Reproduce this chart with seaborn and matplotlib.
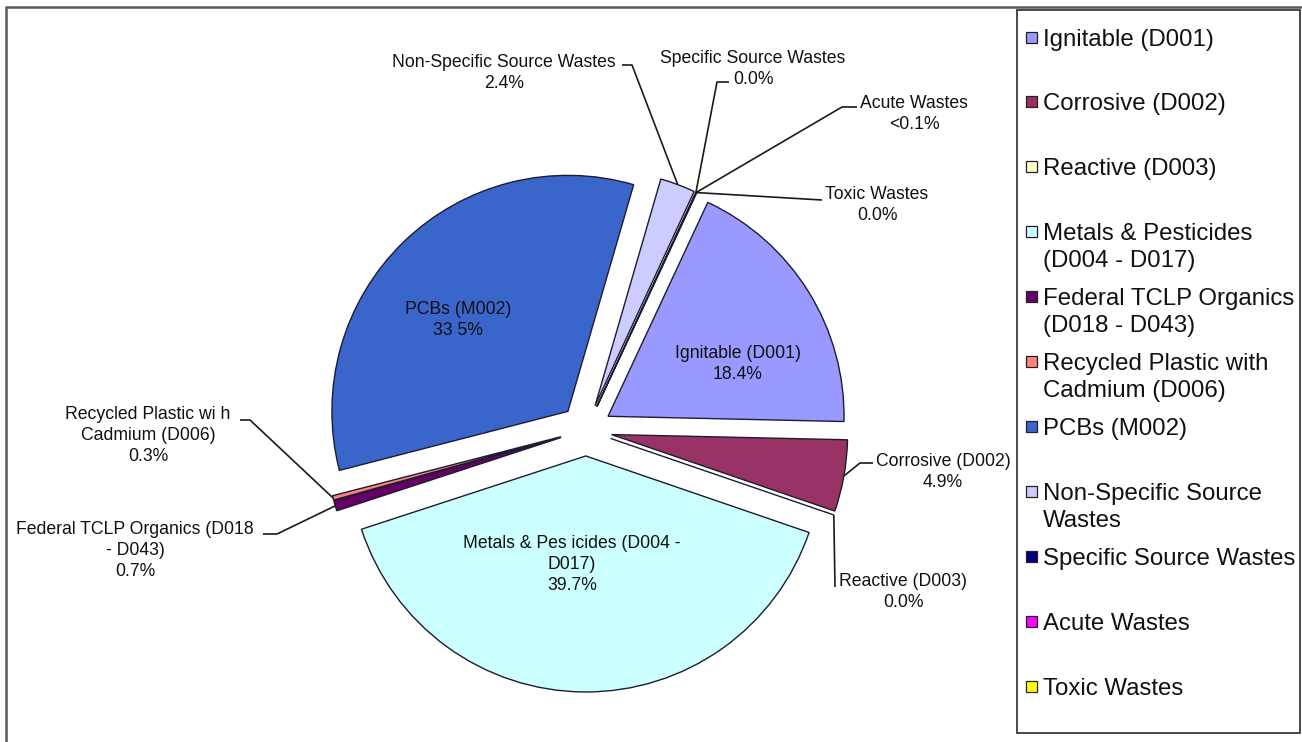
import matplotlib
matplotlib.use("Agg")
import matplotlib.pyplot as plt
import seaborn as sns
from matplotlib.patches import Rectangle
import numpy as np

# ---------------- data ----------------
categories = [
    "Ignitable (D001)",
    "Corrosive (D002)",
    "Reactive (D003)",
    "Metals & Pesticides\n(D004 - D017)",
    "Federal TCLP Organics\n(D018 - D043)",
    "Recycled Plastic with\nCadmium (D006)",
    "PCBs (M002)",
    "Non-Specific Source\nWastes",
    "Specific Source Wastes",
    "Acute Wastes",
    "Toxic Wastes",
]
values = [18.4, 4.9, 0.0, 39.7, 0.7, 0.3, 33.5, 2.4, 0.0, 0.05, 0.0]
pct_text = ["18.4%", "4.9%", "0.0%", "39.7%", "0.7%", "0.3%", "33 5%",
            "2.4%", "0.0%", "<0.1%", "0.0%"]
slice_names = [
    ["Ignitable (D001)"],
    ["Corrosive (D002)"],
    ["Reactive (D003)"],
    ["Metals & Pes icides (D004 -", "D017)"],
    ["Federal TCLP Organics (D018", "- D043)"],
    ["Recycled Plastic wi h", "Cadmium (D006)"],
    ["PCBs (M002)"],
    ["Non-Specific Source Wastes"],
    ["Specific Source Wastes"],
    ["Acute Wastes"],
    ["Toxic Wastes"],
]

# ---------------- style / layout ----------------
colors = ["#9999FF", "#993366", "#FFFFCC", "#CCFFFF", "#660066", "#FF8080",
          "#3A66CC", "#CCCCFF", "#000080", "#FF00FF", "#FFFF00"]

W, H, DPI = 1302, 742, 100
CX, CY, R = 586, 430, 236          # pie centre / radius in pixels

sns.set_theme(style="white")
plt.rcParams['font.family'] = ['Liberation Sans', 'DejaVu Sans']
TXT = "#111111"

def P(px, py):
    return ((px - CX) / R, (CY - py) / R)

fig = plt.figure(figsize=(W / DPI, H / DPI), dpi=DPI)
fig.patch.set_facecolor("white")
ax = fig.add_axes([0, 0, 1, 1])

wedges, _ = ax.pie(values, colors=colors, startangle=65, counterclock=False,
                   explode=[0.11] * len(values), radius=1,
                   wedgeprops=dict(edgecolor="#1c1c30", linewidth=1.0))
ax.set_xlim(-CX / R, (W - CX) / R)
ax.set_ylim(-(H - CY) / R, CY / R)
ax.set_aspect("equal")
ax.axis("off")

# label positions: (centre x px, first line centre y px)
label_pos = {
    0: (738, 352), 1: (943, 460), 2: (903, 580), 3: (572, 542),
    4: (135, 528), 5: (148, 413), 6: (458, 308), 7: (504, 61),
    8: (753, 57), 9: (914, 102), 10: (877, 193),
}
LFS_PX, LSP = 17.6, 21
for i, (x, y) in label_pos.items():
    lines = slice_names[i] + [pct_text[i]]
    for k, line in enumerate(lines):
        ax.text(*P(x, y + k * LSP + 0.36 * LFS_PX), line, ha="center",
                va="baseline", fontsize=LFS_PX * 72 / DPI, color=TXT)

# leader lines (start points in px, end at wedge rim)
leaders = {
    7: [(622, 65), (632, 65)],
    8: [(729, 82), (717, 82)],
    9: [(857, 107), (842, 107)],
    10: [(822, 200)],
    1: [(873, 463), (860, 463)],
    2: [(835, 587)],
    5: [(240, 420), (250, 420)],
    4: [(263, 534), (277, 534)],
}
for i, pts in leaders.items():
    w = wedges[i]
    th = np.deg2rad(0.5 * (w.theta1 + w.theta2))
    end = (w.center[0] + w.r * np.cos(th), w.center[1] + w.r * np.sin(th))
    xs = [P(*p)[0] for p in pts] + [end[0]]
    ys = [P(*p)[1] for p in pts] + [end[1]]
    ax.plot(xs, ys, color="#1a1a1a", lw=1.2, solid_capstyle="butt")

# outer chart frame (top & left visible)
fig.add_artist(Rectangle((6 / W, -0.05), 1.2, (H - 7) / H + 0.05,
                         transform=fig.transFigure, fill=False,
                         edgecolor="#5a5a5a", lw=1.8))

# legend box
fig.add_artist(Rectangle((1017 / W, (H - 733) / H), (1300 - 1017) / W,
                         (733 - 10) / H, transform=fig.transFigure,
                         facecolor="white", edgecolor="#2a2a2a", lw=1.2))
LEG_FS_PX = 24.0
first_y = [37, 101, 166, 231, 296, 361, 426, 491, 556, 621, 686]
for i, lab in enumerate(categories):
    y0 = first_y[i]
    fig.add_artist(Rectangle((1026 / W, (H - y0 - 6) / H), 11 / W, 11 / H,
                             transform=fig.transFigure, facecolor=colors[i],
                             edgecolor="#222222", lw=0.9))
    for k, line in enumerate(lab.split("\n")):
        yb = y0 + k * 27 + 0.36 * LEG_FS_PX
        fig.text(1043 / W, (H - yb) / H, line, ha="left", va="baseline",
                 fontsize=LEG_FS_PX * 72 / DPI, color=TXT)

fig.savefig("out.png", dpi=DPI, facecolor="white")
